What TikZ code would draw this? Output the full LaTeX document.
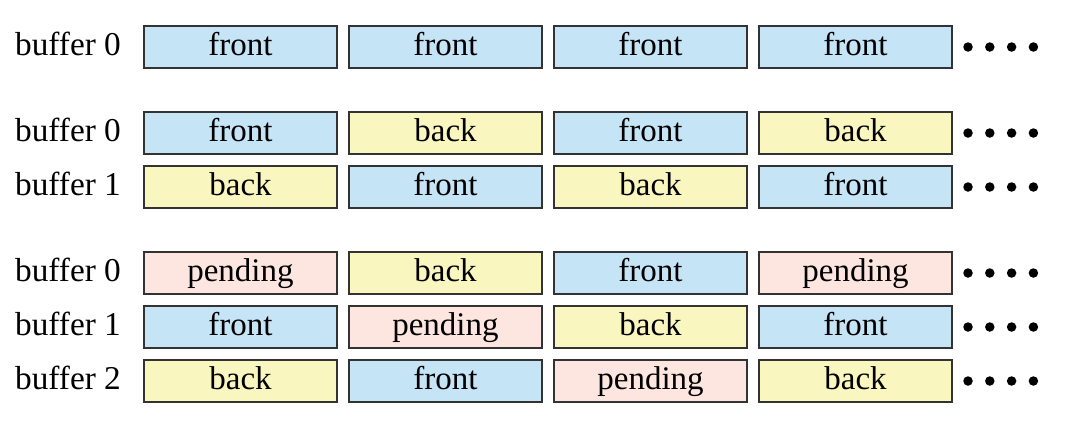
\documentclass[tikz,border=0pt]{standalone}
\usepackage{fontspec}
\setmainfont{Liberation Serif}
\definecolor{fbl}{HTML}{C5E4F6}
\definecolor{byl}{HTML}{FAF6C0}
\definecolor{ppk}{HTML}{FDE6DF}
\definecolor{edge}{HTML}{333333}
\begin{document}
\begin{tikzpicture}[x=1pt,y=-1pt,
  cell/.style={draw=edge,line width=2pt,minimum width=193pt,minimum height=42pt,inner sep=0pt,
    font=\fontsize{33}{36}\selectfont,text height=23pt,text depth=7pt},
  frontc/.style={cell,fill=fbl},
  backc/.style={cell,fill=byl},
  pendc/.style={cell,fill=ppk},
  lbl/.style={anchor=west,inner sep=0pt,font=\fontsize{33.3}{36}\selectfont,text height=23pt,text depth=7pt},
  dotc/.style={circle,fill=black,inner sep=0pt,minimum size=9.5pt}]
\useasboundingbox (0,0) rectangle (1068,424);
\foreach \r/\y/\lab/\a/\b/\c/\d in {
  1/47/buffer 0/front/front/front/front,
  2/133/buffer 0/front/back/front/back,
  3/187/buffer 1/back/front/back/front,
  4/273/buffer 0/pend/back/front/pend,
  5/327/buffer 1/front/pend/back/front,
  6/381/buffer 2/back/front/pend/back}{
  \node[lbl] (l\r) at (15,\y) {\lab};
  \foreach \k/\t [count=\i] in {\a,\b,\c,\d}{
    \ifnum\pdfstrcmp{\k}{pend}=0 \def\txt{pending}\else\edef\txt{\k}\fi
    \node[\k c] (c\r\i) at (240.5+205*\i-205,\y) {\txt};
  }
  \foreach \j in {0,1,2,3}{
    \node[dotc] (d\r\j) at (968+21.8*\j,\y) {};
  }
}
\end{tikzpicture}
\end{document}
